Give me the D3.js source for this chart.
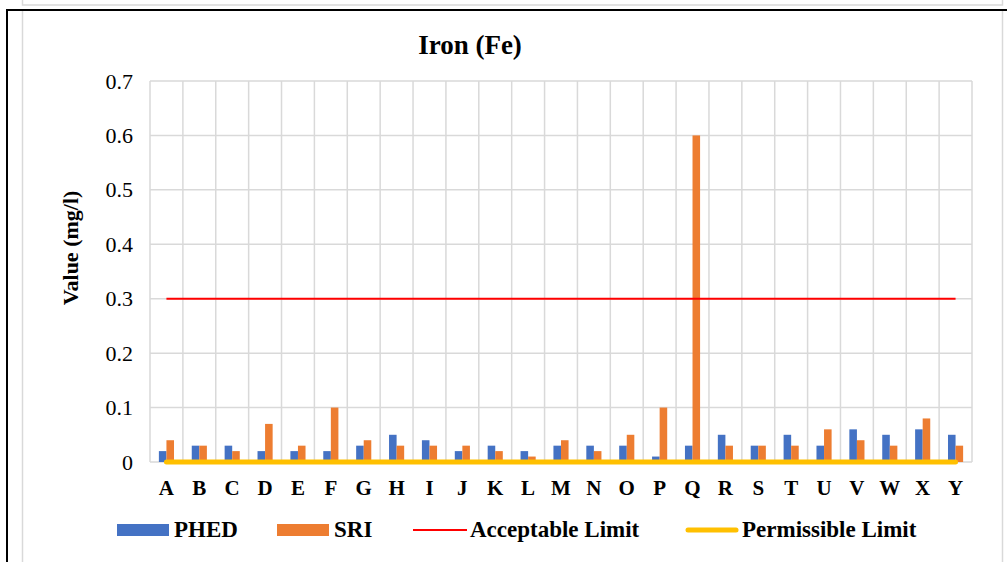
<!DOCTYPE html>
<html>
<head>
<meta charset="utf-8">
<script src="https://cdn.jsdelivr.net/npm/d3@7"></script>
<style>
  html, body { margin: 0; padding: 0; background: #fff; }
  svg { display: block; }
  text { font-family: "Liberation Serif", "Times New Roman", serif; fill: #000; }
</style>
</head>
<body>
<svg id="chart" width="1007" height="562"></svg>
<script>
const categories = ["A","B","C","D","E","F","G","H","I","J","K","L","M","N","O","P","Q","R","S","T","U","V","W","X","Y"];
const phed = [0.02,0.03,0.03,0.02,0.02,0.02,0.03,0.05,0.04,0.02,0.03,0.02,0.03,0.03,0.03,0.01,0.03,0.05,0.03,0.05,0.03,0.06,0.05,0.06,0.05];
const sri  = [0.04,0.03,0.02,0.07,0.03,0.10,0.04,0.03,0.03,0.03,0.02,0.01,0.04,0.02,0.05,0.10,0.60,0.03,0.03,0.03,0.06,0.04,0.03,0.08,0.03];
const acceptableLimit = 0.3;
const permissibleLimit = 0;
const yTicks = [0, 0.1, 0.2, 0.3, 0.4, 0.5, 0.6, 0.7];
const seriesNames = ["PHED", "SRI"];
const seriesColors = ["#4472C4", "#ED7D31"];

const svg = d3.select("#chart");
const grid = "#D9D9D9";

// outer frame pieces
svg.append("rect").attr("x", 22.5).attr("y", -5).attr("width", 980).attr("height", 10)
  .attr("fill", "none").attr("stroke", grid).attr("stroke-width", 1.5);
svg.append("line").attr("x1", 22.5).attr("x2", 22.5).attr("y1", 11).attr("y2", 562).attr("stroke", grid).attr("stroke-width", 1.5);
svg.append("line").attr("x1", 1002.5).attr("x2", 1002.5).attr("y1", 11).attr("y2", 562).attr("stroke", grid).attr("stroke-width", 1.5);
svg.append("line").attr("x1", 6).attr("x2", 1007).attr("y1", 10).attr("y2", 10).attr("stroke", "#000").attr("stroke-width", 2);
svg.append("line").attr("x1", 7).attr("x2", 7).attr("y1", 9).attr("y2", 562).attr("stroke", "#000").attr("stroke-width", 2);

const L = 150, R = 972, T = 81, B = 462;
const x = d3.scaleBand().domain(categories).range([L, R]).padding(0);
const y = d3.scaleLinear().domain([0, 0.7]).range([B, T]);
const bw = x.bandwidth();
const inner = d3.scaleBand().domain(seriesNames).range([bw * 0.27, bw * 0.73]).padding(0);

// horizontal gridlines
svg.append("g").selectAll("line").data(yTicks).join("line")
  .attr("x1", L).attr("x2", R)
  .attr("y1", d => y(d)).attr("y2", d => y(d))
  .attr("stroke", grid).attr("stroke-width", 1.5);
// vertical gridlines at category boundaries
const bounds = categories.map(c => x(c)).concat([R]);
svg.append("g").selectAll("line").data(bounds).join("line")
  .attr("x1", d => d).attr("x2", d => d)
  .attr("y1", T).attr("y2", B)
  .attr("stroke", grid).attr("stroke-width", 1.5);

// y axis labels
const yAxis = d3.axisLeft(y).tickValues(yTicks).tickSize(0).tickPadding(17)
  .tickFormat(d => d === 0 ? "0" : d3.format(".1f")(d));
const ya = svg.append("g").attr("transform", `translate(${L},0)`).call(yAxis);
ya.select(".domain").remove();
ya.selectAll("text").attr("font-family", "Liberation Serif").attr("font-size", 22).attr("fill", "#000");

// x axis labels
const xAxis = d3.axisBottom(x).tickSize(0).tickPadding(18);
const xa = svg.append("g").attr("transform", `translate(0,${B})`).call(xAxis);
xa.select(".domain").remove();
xa.selectAll("text").attr("font-family", "Liberation Serif").attr("font-size", 21)
  .attr("font-weight", "bold").attr("fill", "#000");

// bars
const data = [phed, sri];
seriesNames.forEach((s, si) => {
  svg.append("g").selectAll("rect").data(categories).join("rect")
    .attr("x", c => x(c) + inner(s))
    .attr("width", inner.bandwidth())
    .attr("y", (c, i) => y(data[si][i]))
    .attr("height", (c, i) => B - y(data[si][i]))
    .attr("fill", seriesColors[si]);
});

// limit lines
const cx = c => x(c) + bw / 2;
const first = categories[0], last = categories[categories.length - 1];
svg.append("line").attr("x1", cx(first)).attr("x2", cx(last))
  .attr("y1", y(acceptableLimit)).attr("y2", y(acceptableLimit))
  .attr("stroke", "#FF0000").attr("stroke-width", 2);
svg.append("line").attr("x1", cx(first)).attr("x2", cx(last))
  .attr("y1", y(permissibleLimit)).attr("y2", y(permissibleLimit))
  .attr("stroke", "#FFC000").attr("stroke-width", 5).attr("stroke-linecap", "round");

// title
svg.append("text").attr("x", 470).attr("y", 54).attr("text-anchor", "middle")
  .attr("font-size", 27).attr("font-weight", "bold").text("Iron (Fe)");

// y title
svg.append("text").attr("transform", "translate(78,248) rotate(-90)").attr("text-anchor", "middle")
  .attr("font-size", 22).attr("font-weight", "bold").text("Value (mg/l)");

// legend
const lg = svg.append("g");
const legendItems = [
  {name: "PHED", type: "rect", color: seriesColors[0], x: 117},
  {name: "SRI", type: "rect", color: seriesColors[1], x: 277},
  {name: "Acceptable Limit", type: "line", color: "#FF0000", x: 413, w: 2},
  {name: "Permissible Limit", type: "line", color: "#FFC000", x: 685, w: 5}
];
legendItems.forEach(it => {
  if (it.type === "rect") {
    lg.append("rect").attr("x", it.x).attr("y", 524).attr("width", 52).attr("height", 12).attr("fill", it.color);
  } else {
    lg.append("line").attr("x1", it.x + (it.w > 2 ? 3 : 0)).attr("x2", it.x + 54 - (it.w > 2 ? 3 : 0))
      .attr("y1", 530).attr("y2", 530).attr("stroke", it.color).attr("stroke-width", it.w)
      .attr("stroke-linecap", it.w > 2 ? "round" : "butt");
  }
  lg.append("text").attr("x", it.x + 57).attr("y", 537).attr("font-size", 23)
    .attr("font-weight", "bold").text(it.name);
});
</script>
</body>
</html>
